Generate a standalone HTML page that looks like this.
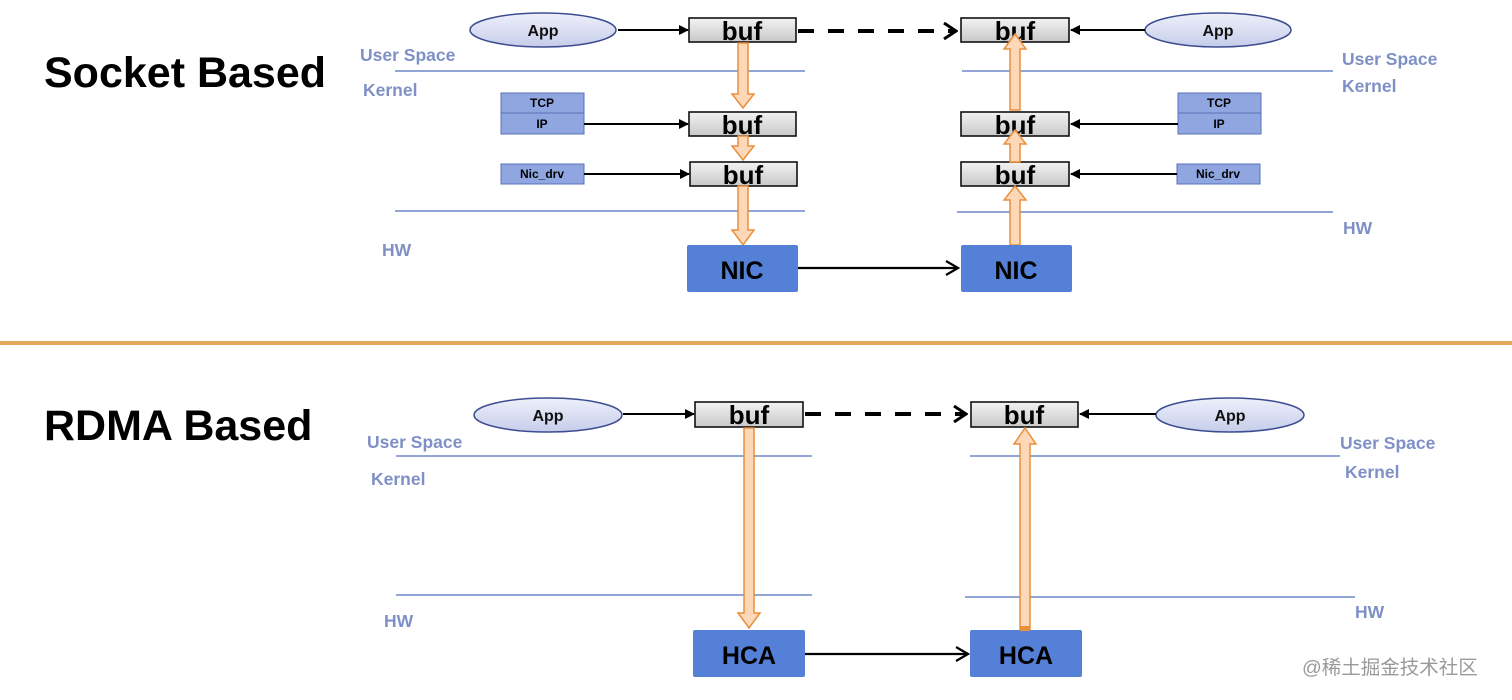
<!DOCTYPE html>
<html><head><meta charset="utf-8"><style>
html,body{margin:0;padding:0;background:#fff;}
svg{display:block;}
text{font-family:"Liberation Sans",Arial,sans-serif;font-weight:bold;}
.lbl{fill:#7f90c6;font-size:17.5px;}
.ln{stroke:#6f88c8;stroke-width:1.5;}
.buf{fill:url(#gb);stroke:#111;stroke-width:1.6;}
.bt{font-size:26px;fill:#000;text-anchor:middle;}
.sb{fill:#8fa6e0;stroke:#5a72b8;stroke-width:1;}
.st{font-size:12px;fill:#000;text-anchor:middle;}
.nic{fill:#5580d8;}
.nt{font-size:25px;fill:#000;text-anchor:middle;}
.oa{fill:#fcd7b8;stroke:#e8903a;stroke-width:1.5;}
.ar{stroke:#000;stroke-width:2;fill:none;}
.at{font-size:16px;fill:#111;text-anchor:middle;}
</style></head><body>
<svg width="1512" height="700" viewBox="0 0 1512 700" xmlns="http://www.w3.org/2000/svg">
<defs>
<linearGradient id="gb" x1="0" y1="0" x2="0" y2="1"><stop offset="0" stop-color="#f2f2f2"/><stop offset="1" stop-color="#c9c9c9"/></linearGradient>
<linearGradient id="ge" x1="0" y1="0" x2="0" y2="1"><stop offset="0" stop-color="#eef0fa"/><stop offset="1" stop-color="#c6cdea"/></linearGradient>
<marker id="tri" markerWidth="10" markerHeight="10" refX="9" refY="5" orient="auto" markerUnits="userSpaceOnUse"><path d="M0,0 L10,5 L0,10 z" fill="#000"/></marker>
<marker id="chev" markerWidth="16" markerHeight="18" refX="14" refY="9" orient="auto" markerUnits="userSpaceOnUse"><path d="M2,1 L14,9 L2,17" fill="none" stroke="#000" stroke-width="3"/></marker>
<marker id="chev2" markerWidth="16" markerHeight="18" refX="14" refY="9" orient="auto" markerUnits="userSpaceOnUse"><path d="M2,2 L14,9 L2,16" fill="none" stroke="#000" stroke-width="2.2"/></marker>
</defs>

<text x="44" y="87" style="font-size:43px" fill="#000">Socket Based</text>
<text x="44" y="440" style="font-size:43px" fill="#000">RDMA Based</text>

<rect x="0" y="341" width="1512" height="4" fill="#e2aa5c"/>

<!-- ===== TOP ===== -->
<text class="lbl" x="360" y="61">User Space</text>
<text class="lbl" x="363" y="96">Kernel</text>
<text class="lbl" x="382" y="256">HW</text>
<text class="lbl" x="1342" y="65">User Space</text>
<text class="lbl" x="1342" y="92">Kernel</text>
<text class="lbl" x="1343" y="234">HW</text>
<line class="ln" x1="395" y1="71" x2="805" y2="71"/>
<line class="ln" x1="962" y1="71" x2="1333" y2="71"/>
<line class="ln" x1="395" y1="211" x2="805" y2="211"/>
<line class="ln" x1="957" y1="212" x2="1333" y2="212"/>

<ellipse cx="543" cy="30" rx="73" ry="17" fill="url(#ge)" stroke="#3c4c90" stroke-width="1.5"/>
<text class="at" x="543" y="36">App</text>
<ellipse cx="1218" cy="30" rx="73" ry="17" fill="url(#ge)" stroke="#3c4c90" stroke-width="1.5"/>
<text class="at" x="1218" y="36">App</text>

<rect class="buf" x="689" y="18" width="107" height="24"/><text class="bt" x="742" y="40">buf</text>
<rect class="buf" x="961" y="18" width="108" height="24"/><text class="bt" x="1015" y="40">buf</text>
<rect class="buf" x="689" y="112" width="107" height="24"/><text class="bt" x="742" y="134">buf</text>
<rect class="buf" x="690" y="162" width="107" height="24"/><text class="bt" x="743" y="184">buf</text>
<rect class="buf" x="961" y="112" width="108" height="24"/><text class="bt" x="1015" y="134">buf</text>
<rect class="buf" x="961" y="162" width="108" height="24"/><text class="bt" x="1015" y="184">buf</text>

<path class="oa" d="M738,43 h10 v51 h6 l-11,14 l-11,-14 h6 z"/>
<path class="oa" d="M738,136 h10 v10 h6 l-11,14 l-11,-14 h6 z"/>
<path class="oa" d="M738,186 h10 v44 h6 l-11,15 l-11,-15 h6 z"/>
<path class="oa" d="M1010,110 h10 v-61 h6 l-11,-15 l-11,15 h6 z"/>
<path class="oa" d="M1010,162 h10 v-18 h6 l-11,-14 l-11,14 h6 z"/>
<path class="oa" d="M1010,245 h10 v-45 h6 l-11,-14 l-11,14 h6 z"/>

<rect class="sb" x="501" y="93" width="83" height="20"/><text class="st" x="542" y="107">TCP</text>
<rect class="sb" x="501" y="113" width="83" height="21"/><text class="st" x="542" y="128">IP</text>
<rect class="sb" x="501" y="164" width="83" height="20"/><text class="st" x="542" y="178">Nic_drv</text>
<rect class="sb" x="1178" y="93" width="83" height="20"/><text class="st" x="1219" y="107">TCP</text>
<rect class="sb" x="1178" y="113" width="83" height="21"/><text class="st" x="1219" y="128">IP</text>
<rect class="sb" x="1177" y="164" width="83" height="20"/><text class="st" x="1218" y="178">Nic_drv</text>

<line class="ar" x1="618" y1="30" x2="688" y2="30" marker-end="url(#tri)"/>
<line class="ar" x1="1145" y1="30" x2="1071" y2="30" marker-end="url(#tri)"/>
<line class="ar" x1="584" y1="124" x2="688" y2="124" marker-end="url(#tri)"/>
<line class="ar" x1="584" y1="174" x2="689" y2="174" marker-end="url(#tri)"/>
<line class="ar" x1="1178" y1="124" x2="1071" y2="124" marker-end="url(#tri)"/>
<line class="ar" x1="1177" y1="174" x2="1071" y2="174" marker-end="url(#tri)"/>
<line x1="798" y1="31" x2="956" y2="31" stroke="#000" stroke-width="4" stroke-dasharray="16,14" marker-end="url(#chev)"/>

<rect class="nic" x="687" y="245" width="111" height="47" rx="2"/><text class="nt" x="742" y="279">NIC</text>
<rect class="nic" x="961" y="245" width="111" height="47" rx="2"/><text class="nt" x="1016" y="279">NIC</text>
<line x1="798" y1="268" x2="958" y2="268" stroke="#000" stroke-width="2.2" marker-end="url(#chev2)"/>

<!-- ===== BOTTOM ===== -->
<text class="lbl" x="367" y="448">User Space</text>
<text class="lbl" x="371" y="485">Kernel</text>
<text class="lbl" x="384" y="627">HW</text>
<text class="lbl" x="1340" y="449">User Space</text>
<text class="lbl" x="1345" y="478">Kernel</text>
<text class="lbl" x="1355" y="618">HW</text>
<line class="ln" x1="396" y1="456" x2="812" y2="456"/>
<line class="ln" x1="970" y1="456" x2="1340" y2="456"/>
<line class="ln" x1="396" y1="595" x2="812" y2="595"/>
<line class="ln" x1="965" y1="597" x2="1355" y2="597"/>

<ellipse cx="548" cy="415" rx="74" ry="17" fill="url(#ge)" stroke="#3c4c90" stroke-width="1.5"/>
<text class="at" x="548" y="421">App</text>
<ellipse cx="1230" cy="415" rx="74" ry="17" fill="url(#ge)" stroke="#3c4c90" stroke-width="1.5"/>
<text class="at" x="1230" y="421">App</text>

<rect class="buf" x="695" y="402" width="108" height="25"/><text class="bt" x="749" y="424">buf</text>
<rect class="buf" x="971" y="402" width="107" height="25"/><text class="bt" x="1024" y="424">buf</text>

<path class="oa" d="M744,428 h10 v185 h6 l-11,15 l-11,-15 h6 z"/>
<path class="oa" d="M1020,630 h10 v-186 h6 l-11,-16 l-11,16 h6 z"/>

<line class="ar" x1="623" y1="414" x2="694" y2="414" marker-end="url(#tri)"/>
<line class="ar" x1="1156" y1="414" x2="1080" y2="414" marker-end="url(#tri)"/>
<line x1="805" y1="414" x2="966" y2="414" stroke="#000" stroke-width="4" stroke-dasharray="16,14" marker-end="url(#chev)"/>

<rect class="nic" x="693" y="630" width="112" height="47" rx="2"/><text class="nt" x="749" y="664">HCA</text>
<rect class="nic" x="970" y="630" width="112" height="47" rx="2"/><text class="nt" x="1026" y="664">HCA</text>
<path d="M1020,626 h10 v5 h-10 z" fill="#e8903a"/>
<line x1="805" y1="654" x2="968" y2="654" stroke="#000" stroke-width="2.2" marker-end="url(#chev2)"/>

<text x="1302" y="674" style="font-size:19.5px;font-weight:normal;font-family:'Liberation Sans','Noto Sans CJK SC',sans-serif" fill="#9a9a9a">@稀土掘金技术社区</text>
</svg>
</body></html>
